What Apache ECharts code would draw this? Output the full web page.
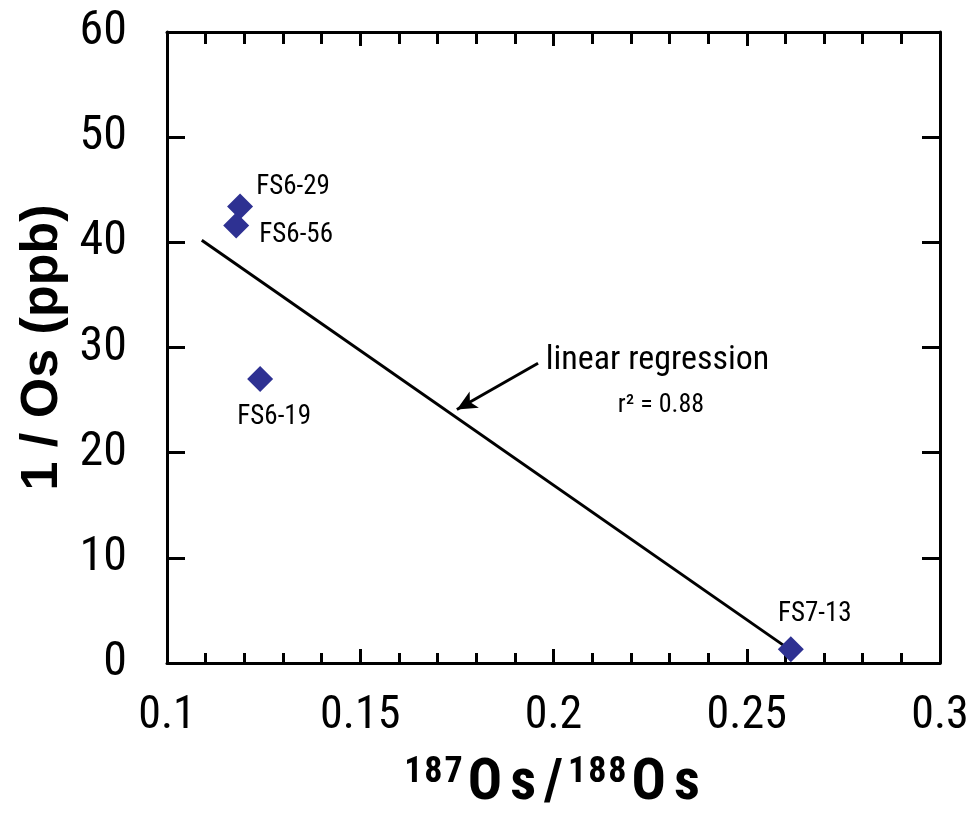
<!DOCTYPE html>
<html>
<head>
<meta charset="utf-8">
<script src="https://cdn.jsdelivr.net/npm/echarts@6/dist/echarts.min.js"></script>
<style>
  html, body { margin: 0; padding: 0; background: #fff; }
  #chart { width: 969px; height: 813px; }
</style>
</head>
<body>
<div id="chart"></div>
<script>
// Sample compositions: 187Os/188Os ratio vs. 1/Os concentration
const sampleNames = ['FS6-29', 'FS6-56', 'FS6-19', 'FS7-13'];
const osRatio = [0.1189, 0.1179, 0.1241, 0.2614];
const invOs = [43.4, 41.6, 27.0, 1.3];

// Endpoints of the fitted regression line
const fitX = [0.109, 0.2614];
const fitY = [40.2, 1.2];

// Axis ranges and tick steps
const xRange = [0.1, 0.3];
const xStep = 0.05;
const yRange = [0, 60];
const yStep = 10;

// Axis titles
const xTitleParts = [['sup', '187'], ['big', 'Os/'], ['sup', '188'], ['big', 'Os']];
const yTitle = '1 / Os (ppb)';

// Annotation text and its anchors (data units)
const noteText = ['linear regression', 'r² = 0.88'];
const noteX = [0.2269, 0.2278];
const noteY = [28.8, 24.5];
const arrowFrom = [0.196, 28.5];
const arrowTo = [0.175, 24.1];

const NARROW = '"Roboto Condensed", "Liberation Sans Narrow", "Liberation Sans", Arial, sans-serif';
const SANS = '"Liberation Sans", Arial, sans-serif';
const INK = '#000';
const MARK = '#2E3192';

// label placement around each diamond (pixels from marker centre)
const labelOffsets = [[53, -19], [60, 10], [14, 38], [24, -35]];

// spaced-out title: one rich token per character
const xTitle = xTitleParts.map(([style, txt]) =>
  txt.split('').map(ch => '{' + style + '|' + ch + '}').join('')
).join('');

const chart = echarts.init(document.getElementById('chart'), null, { renderer: 'canvas' });

const frameLine = { show: true, onZero: false, lineStyle: { color: INK, width: 3 } };

const points = sampleNames.map((name, i) => ({
  name: name,
  value: [osRatio[i], invOs[i]],
  label: { offset: labelOffsets[i] }
}));

const option = {
  animation: false,
  backgroundColor: '#fff',
  grid: { left: 167, right: 29, top: 32, bottom: 150, containLabel: false, outerBoundsMode: 'none' },
  xAxis: [
    {
      type: 'value', min: xRange[0], max: xRange[1], interval: xStep,
      position: 'bottom',
      axisLine: frameLine,
      axisTick: { show: true, inside: true, length: 14, lineStyle: { color: INK, width: 3 } },
      minorTick: { show: true, splitNumber: 5, length: 10, lineStyle: { color: INK, width: 3 } },
      splitLine: { show: false },
      axisLabel: { margin: 30, color: INK, fontSize: 46, fontFamily: NARROW },
      name: xTitle,
      nameLocation: 'middle',
      nameGap: 92,
      nameTextStyle: {
        rich: {
          big: { fontSize: 57, fontWeight: 'bold', fontFamily: NARROW, color: INK, lineHeight: 58, verticalAlign: 'bottom', padding: [0, 4, 0, 4] },
          sup: { fontSize: 36, fontWeight: 'bold', fontFamily: NARROW, color: INK, lineHeight: 36, verticalAlign: 'top', padding: [0, 1, 0, 1] }
        }
      }
    },
    {
      type: 'value', min: xRange[0], max: xRange[1], interval: xStep,
      position: 'top',
      axisLine: frameLine,
      axisTick: { show: true, inside: true, length: 14, lineStyle: { color: INK, width: 3 } },
      minorTick: { show: true, splitNumber: 5, length: 12, lineStyle: { color: INK, width: 3 } },
      splitLine: { show: false },
      axisLabel: { show: false }
    }
  ],
  yAxis: [
    {
      type: 'value', min: yRange[0], max: yRange[1], interval: yStep,
      position: 'left',
      axisLine: frameLine,
      axisTick: { show: true, inside: true, length: 18, lineStyle: { color: INK, width: 3 } },
      splitLine: { show: false },
      axisLabel: { margin: 40, color: INK, fontSize: 48, fontFamily: NARROW, padding: [0, 0, 10, 0] },
      name: yTitle,
      nameLocation: 'middle',
      nameRotate: 90,
      nameGap: 96,
      nameTextStyle: { fontSize: 52, fontWeight: 'bold', fontFamily: SANS, color: INK }
    },
    {
      type: 'value', min: yRange[0], max: yRange[1], interval: yStep,
      position: 'right',
      axisLine: frameLine,
      axisTick: { show: true, inside: true, length: 18, lineStyle: { color: INK, width: 3 } },
      splitLine: { show: false },
      axisLabel: { show: false }
    }
  ],
  series: [
    {
      name: 'regression',
      type: 'line',
      data: fitX.map((x, i) => [x, fitY[i]]),
      showSymbol: false,
      symbol: 'none',
      lineStyle: { color: INK, width: 3 },
      z: 2,
      silent: true
    },
    {
      name: 'samples',
      type: 'scatter',
      data: points,
      symbol: 'diamond',
      symbolSize: 26,
      itemStyle: { color: MARK, opacity: 1 },
      label: {
        show: true,
        position: 'inside',
        formatter: p => p.name,
        color: INK,
        fontSize: 27,
        fontFamily: NARROW
      },
      z: 3
    },
    {
      name: 'notes',
      type: 'scatter',
      data: noteText.map((t, i) => ({ name: t, value: [noteX[i], noteY[i]] })),
      symbolSize: 1,
      itemStyle: { color: 'rgba(0,0,0,0)', opacity: 1 },
      label: {
        show: true,
        position: 'inside',
        formatter: p => p.name,
        color: INK,
        fontFamily: NARROW
      },
      markLine: {
        silent: true,
        symbol: ['none', 'arrow'],
        symbolSize: [14, 20],
        label: { show: false },
        lineStyle: { color: INK, width: 3, type: 'solid', opacity: 1 },
        data: [[{ coord: arrowFrom }, { coord: arrowTo }]]
      },
      z: 4
    }
  ]
};

// individual font sizes for the two annotation lines
option.series[2].data[0].label = { fontSize: 34 };
option.series[2].data[1].label = { fontSize: 26 };

chart.setOption(option);
</script>
</body>
</html>
